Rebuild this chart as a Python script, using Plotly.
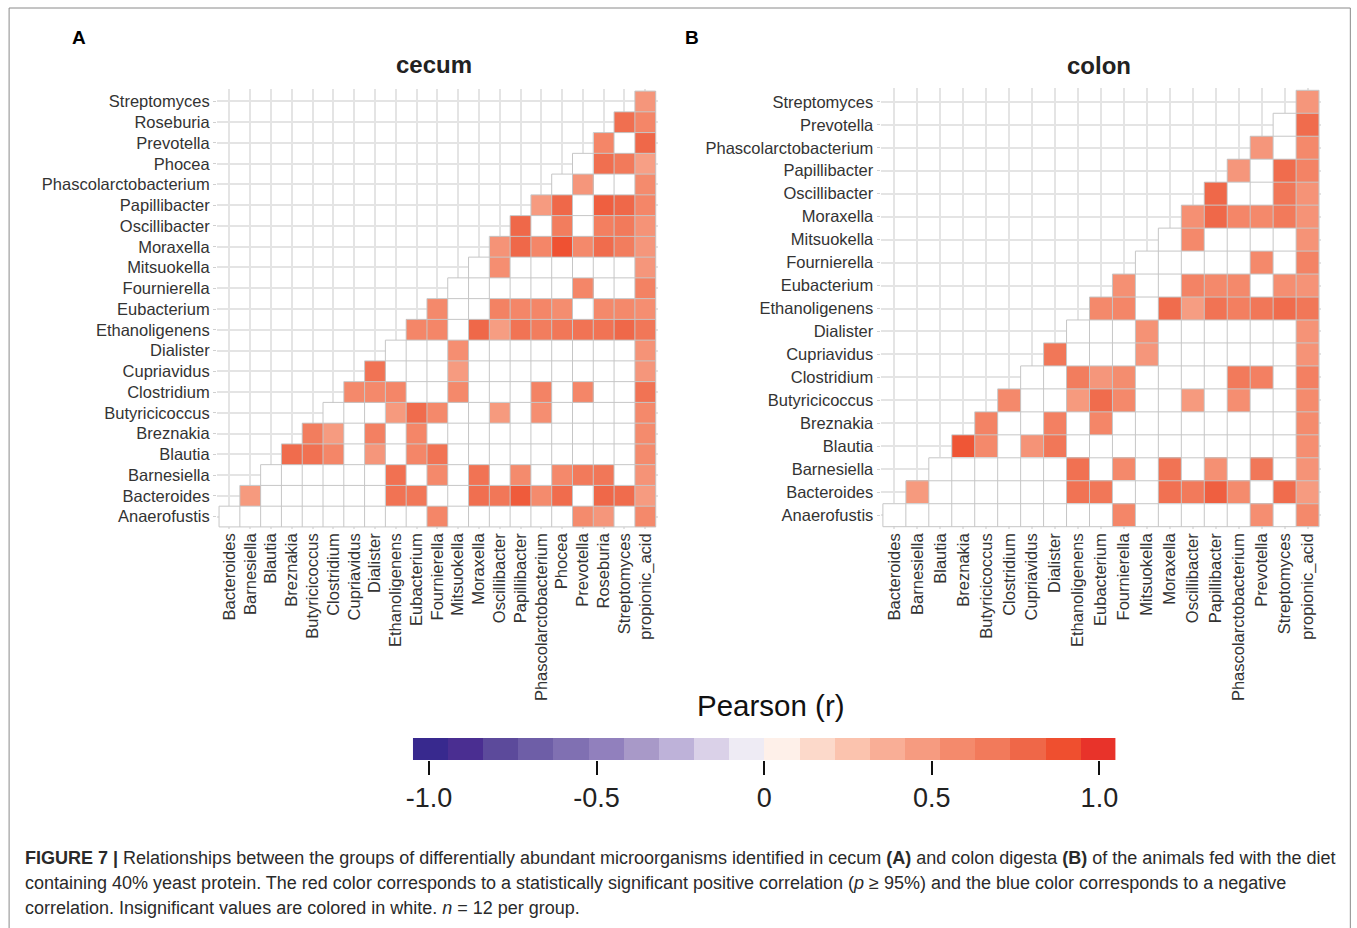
import plotly.graph_objects as go

# ---- taxa ---------------------------------------------------------------
cecum_x = ["Bacteroides", "Barnesiella", "Blautia", "Breznakia", "Butyricicoccus",
           "Clostridium", "Cupriavidus", "Dialister", "Ethanoligenens", "Eubacterium",
           "Fournierella", "Mitsuokella", "Moraxella", "Oscillibacter", "Papillibacter",
           "Phascolarctobacterium", "Phocea", "Prevotella", "Roseburia", "Streptomyces",
           "propionic_acid"]
cecum_y = ["Anaerofustis", "Bacteroides", "Barnesiella", "Blautia", "Breznakia",
           "Butyricicoccus", "Clostridium", "Cupriavidus", "Dialister", "Ethanoligenens",
           "Eubacterium", "Fournierella", "Mitsuokella", "Moraxella", "Oscillibacter",
           "Papillibacter", "Phascolarctobacterium", "Phocea", "Prevotella", "Roseburia",
           "Streptomyces"]

colon_x = ["Bacteroides", "Barnesiella", "Blautia", "Breznakia", "Butyricicoccus",
           "Clostridium", "Cupriavidus", "Dialister", "Ethanoligenens", "Eubacterium",
           "Fournierella", "Mitsuokella", "Moraxella", "Oscillibacter", "Papillibacter",
           "Phascolarctobacterium", "Prevotella", "Streptomyces", "propionic_acid"]
colon_y = ["Anaerofustis", "Bacteroides", "Barnesiella", "Blautia", "Breznakia",
           "Butyricicoccus", "Clostridium", "Cupriavidus", "Dialister", "Ethanoligenens",
           "Eubacterium", "Fournierella", "Mitsuokella", "Moraxella", "Oscillibacter",
           "Papillibacter", "Phascolarctobacterium", "Prevotella", "Streptomyces"]

# ---- Pearson r (row i holds columns i..end; 0 = not significant) --------
cecum_r = [
    [0, 0, 0, 0, 0, 0, 0, 0, 0, 0, 0.60, 0, 0, 0, 0, 0, 0, 0.57, 0.50, 0, 0.58],
    [0.48, 0, 0, 0, 0, 0, 0, 0.72, 0.70, 0, 0, 0.74, 0.70, 0.84, 0.57, 0.76, 0, 0.78, 0.76, 0.47],
    [0, 0, 0, 0, 0, 0, 0.73, 0, 0.58, 0, 0.72, 0, 0.57, 0, 0.58, 0.68, 0.70, 0, 0.52],
    [0.76, 0.73, 0.60, 0, 0.50, 0, 0.60, 0.72, 0, 0, 0, 0, 0, 0, 0, 0, 0, 0.57],
    [0.66, 0.47, 0, 0.64, 0, 0.60, 0, 0, 0, 0, 0, 0, 0, 0, 0, 0, 0.57],
    [0, 0, 0, 0.48, 0.76, 0.58, 0, 0, 0.48, 0, 0.55, 0, 0, 0, 0, 0.58],
    [0.58, 0.58, 0.60, 0, 0, 0.58, 0, 0, 0, 0.62, 0, 0.60, 0, 0, 0.72],
    [0.72, 0, 0, 0, 0.47, 0, 0, 0, 0, 0, 0, 0, 0, 0.50],
    [0, 0, 0, 0.55, 0, 0, 0, 0, 0, 0, 0, 0, 0.52],
    [0.60, 0.60, 0, 0.78, 0.46, 0.72, 0.66, 0.70, 0.72, 0.72, 0.78, 0.70],
    [0.58, 0, 0, 0.63, 0.60, 0.60, 0.56, 0, 0.58, 0.58, 0.55],
    [0, 0, 0, 0, 0, 0, 0.60, 0, 0, 0.63],
    [0, 0.55, 0, 0, 0, 0, 0, 0, 0.50],
    [0.52, 0.78, 0.60, 0.88, 0.58, 0.76, 0.66, 0.50],
    [0.78, 0, 0.66, 0, 0.65, 0.68, 0.52],
    [0.47, 0.78, 0, 0.82, 0.78, 0.60],
    [0, 0.50, 0, 0, 0.57],
    [0, 0.74, 0.68, 0.45],
    [0.60, 0, 0.78],
    [0.74, 0.60],
    [0.50],
]

colon_r = [
    [0, 0, 0, 0, 0, 0, 0, 0, 0, 0, 0.60, 0, 0, 0, 0, 0, 0.55, 0, 0.58],
    [0.48, 0, 0, 0, 0, 0, 0, 0.72, 0.70, 0, 0, 0.73, 0.68, 0.82, 0.57, 0, 0.76, 0.47],
    [0, 0, 0, 0, 0, 0, 0.73, 0, 0.58, 0, 0.72, 0, 0.54, 0, 0.70, 0, 0.52],
    [0.86, 0.58, 0, 0.52, 0.70, 0, 0, 0, 0, 0, 0, 0, 0, 0, 0, 0.55],
    [0.62, 0, 0, 0.64, 0, 0.60, 0, 0, 0, 0, 0, 0, 0, 0, 0.57],
    [0.58, 0, 0, 0.48, 0.76, 0.58, 0, 0, 0.48, 0, 0.55, 0, 0, 0.57],
    [0, 0, 0.66, 0.50, 0.56, 0, 0, 0, 0, 0.68, 0.64, 0, 0.64],
    [0.70, 0, 0, 0, 0.50, 0, 0, 0, 0, 0, 0, 0.52],
    [0, 0, 0, 0.53, 0, 0, 0, 0, 0, 0, 0.52],
    [0.58, 0.60, 0, 0.76, 0.46, 0.72, 0.65, 0.70, 0.76, 0.70],
    [0.54, 0, 0, 0.62, 0.58, 0.58, 0, 0.55, 0.52],
    [0, 0, 0, 0, 0, 0.58, 0, 0.62],
    [0, 0.58, 0, 0, 0, 0, 0.52],
    [0.54, 0.78, 0.60, 0.58, 0.68, 0.52],
    [0.78, 0, 0, 0.70, 0.52],
    [0.50, 0, 0.76, 0.62],
    [0.50, 0, 0.58],
    [0, 0.76],
    [0.50],
]

# ---- colour scale: 20 steps from -1.048 to 1.048 ------------------------
step_colors = ["#38298e", "#4a2e91", "#5c4a9b", "#6e5ea7", "#8070b2",
               "#9180bd", "#a899c8", "#beb2d9", "#dad1e8", "#eeebf4",
               "#fef0e9", "#fcd9ca", "#fbc3ae", "#f9ae96", "#f69b80",
               "#f48a6c", "#f27a5b", "#ef6748", "#ef4f2f", "#e8332a"]
r_lim = 1.048
legend_ticks = [-1.0, -0.5, 0.0, 0.5, 1.0]
legend_ticktext = ["-1.0", "-0.5", "0", "0.5", "1.0"]

n_steps = len(step_colors)
step_width = 2 * r_lim / n_steps
step_centers = [-r_lim + step_width * (k + 0.5) for k in range(n_steps)]
colorscale = [[0.0, step_colors[0]]]
colorscale += [[(k + 0.5) / n_steps, c] for k, c in enumerate(step_colors)]
colorscale += [[1.0, step_colors[-1]]]

FONT = "Liberation Sans, Arial, Helvetica, sans-serif"
W, H = 1357, 928
# horizontal placement correction for the page offset of the viewer
X_OFF, X_SCALE = 5.9, 0.9932


def px_x(p):
    return ((p - X_OFF) / X_SCALE) / W


def px_y(p):
    return 1 - p / H


def triangle_traces(r_rows, n_cols, xa, ya):
    """White tiles, coloured significant tiles and the grey tile outlines."""
    n_rows = len(r_rows)
    white, vals = [], []
    for i, row in enumerate(r_rows):
        w = [None] * n_cols
        v = [None] * n_cols
        for k, r in enumerate(row):
            j = i + k
            w[j] = 1
            v[j] = r if r != 0 else None
        white.append(w)
        vals.append(v)
    common = dict(x=list(range(n_cols)), y=list(range(n_rows)), xaxis=xa, yaxis=ya,
                  showscale=False, hoverinfo="skip")

    # outlines of the triangular tile block (row i covers columns i..n-1)
    lx, ly = [], []
    for k in range(n_rows + 1):
        start = -0.5 if k == 0 else k - 1.5
        lx += [start, n_cols - 0.5, None]
        ly += [k - 0.5, k - 0.5, None]
    for m in range(n_cols + 1):
        top = min(m, n_rows - 1) + 0.5
        lx += [m - 0.5, m - 0.5, None]
        ly += [-0.5, top, None]
    return [
        go.Heatmap(z=white, colorscale=[[0, "#ffffff"], [1, "#ffffff"]], **common),
        go.Heatmap(z=vals, colorscale=colorscale, zmin=-r_lim, zmax=r_lim, **common),
        go.Scatter(x=lx, y=ly, mode="lines", xaxis=xa, yaxis=ya, hoverinfo="skip",
                   line=dict(color="#c6c6c6", width=1)),
    ]


fig = go.Figure()
for t in triangle_traces(cecum_r, len(cecum_x), "x", "y"):
    fig.add_trace(t)
for t in triangle_traces(colon_r, len(colon_x), "x2", "y2"):
    fig.add_trace(t)

# stepped colour key
fig.add_trace(go.Heatmap(
    z=[step_centers], x=step_centers, y=[0.5], xaxis="x3", yaxis="y3",
    colorscale=colorscale, zmin=-r_lim, zmax=r_lim, showscale=False, hoverinfo="skip"))

tick_font = dict(family=FONT, size=16.5, color="#333333")
grid = dict(showgrid=True, gridcolor="#e4e4e4", gridwidth=2, zeroline=False,
            showline=False, tickfont=tick_font)


def xaxis(labels, domain, label_y):
    # free-positioned so the rotated labels sit just under the bottom row
    return dict(domain=domain, anchor="free", position=label_y,
                range=[-0.6, len(labels) - 0.4], ticks="",
                tickvals=list(range(len(labels))), ticktext=labels, tickangle=-90,
                **grid)


def yaxis(labels, domain, anchor):
    return dict(domain=domain, anchor=anchor, range=[-0.6, len(labels) - 0.4],
                ticks="outside", ticklen=3, tickcolor="#d0d0d0",
                tickvals=list(range(len(labels))), ticktext=labels, **grid)


caption = [
    "<b>FIGURE 7 |</b> Relationships between the groups of differentially abundant "
    "microorganisms identified in cecum <b>(A)</b> and colon digesta <b>(B)</b> of the "
    "animals fed with the diet",
    "containing 40% yeast protein. The red color corresponds to a statistically "
    "significant positive correlation (<i>p</i> \u2265 95%) and the blue color "
    "corresponds to a negative",
    "correlation. Insignificant values are colored in white. <i>n</i> = 12 per group.",
]

annotations = [
    dict(text="<b>A</b>", x=px_x(78), y=px_y(38), font=dict(size=19, color="#000")),
    dict(text="<b>B</b>", x=px_x(691), y=px_y(38), font=dict(size=19, color="#000")),
    dict(text="<b>cecum</b>", x=px_x(433), y=px_y(64), font=dict(size=24, color="#222")),
    dict(text="<b>colon</b>", x=px_x(1099), y=px_y(66), font=dict(size=24, color="#222")),
    dict(text="Pearson (r)", x=px_x(770), y=px_y(705), font=dict(size=29.5, color="#111")),
]
for k, line in enumerate(caption):
    annotations.append(dict(text=line, x=px_x(22), y=px_y(858 + 25 * k), xanchor="left",
                            font=dict(size=18, color="#2a2a2a")))
for a in annotations:
    a.update(xref="paper", yref="paper", showarrow=False, yanchor="middle")
    a.setdefault("xanchor", "center")
    a["font"]["family"] = FONT

fig.update_layout(
    width=W, height=H, margin=dict(l=0, r=0, t=0, b=0),
    paper_bgcolor="white", plot_bgcolor="white", showlegend=False,
    xaxis=xaxis(cecum_x, [px_x(216), px_x(657)], px_y(529)),
    yaxis=yaxis(cecum_y, [px_y(529), px_y(89)], "x"),
    xaxis2=xaxis(colon_x, [px_x(880), px_x(1321)], px_y(529)),
    yaxis2=yaxis(colon_y, [px_y(529), px_y(88)], "x2"),
    xaxis3=dict(domain=[px_x(412), px_x(1115)], anchor="y3", range=[-r_lim, r_lim],
                tickvals=legend_ticks, ticktext=legend_ticktext, ticks="outside",
                ticklen=14, tickwidth=2, tickcolor="#111", showgrid=False,
                zeroline=False, showline=False,
                tickfont=dict(family=FONT, size=27, color="#222")),
    yaxis3=dict(domain=[px_y(760), px_y(738)], anchor="x3", range=[0, 1],
                showticklabels=False, showgrid=False, zeroline=False, ticks=""),
    annotations=annotations,
    shapes=[dict(type="rect", xref="paper", yref="paper",
                 x0=px_x(8), x1=px_x(1350), y0=-0.05, y1=px_y(8),
                 line=dict(color="#8a8a8a", width=1))],
)

fig.write_html("out.html")
